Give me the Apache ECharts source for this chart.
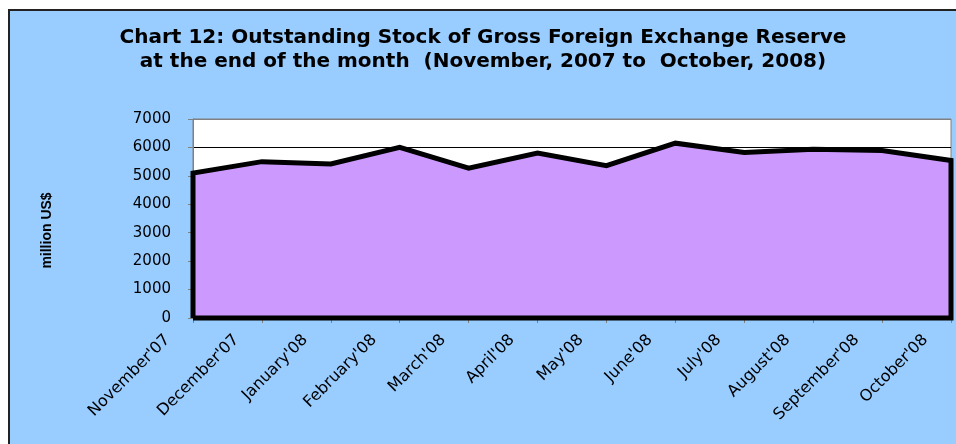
<!DOCTYPE html>
<html>
<head>
<meta charset="utf-8">
<script src="https://cdn.jsdelivr.net/npm/echarts@6/dist/echarts.min.js"></script>
<style>
  html, body { margin: 0; padding: 0; background: #fff; overflow: hidden; width: 956px; height: 444px; }
  #frame {
    position: absolute; left: 8px; top: 9px; width: 1000px; height: 500px;
    border-left: 2px solid #222; border-top: 2px solid #222;
    background: #99CCFF;
  }
  #chart { width: 946px; height: 433px; }
</style>
</head>
<body>
<div id="frame"><div id="chart"></div></div>
<script>
var months = [
  "November'07", "December'07", "January'08", "February'08", "March'08", "April'08",
  "May'08", "June'08", "July'08", "August'08", "September'08", "October'08"
];
var reserve = [5100, 5500, 5420, 6000, 5270, 5800, 5360, 6150, 5820, 5940, 5890, 5540];
var yTicks = [0, 1000, 2000, 3000, 4000, 5000, 6000, 7000];

// closed outline so the black border runs down both ends and along the bottom, like the Excel area
var outline = [[0, 0]];
reserve.forEach(function (v, i) { outline.push([i, v]); });
outline.push([reserve.length - 1, 0]);
outline.push([0, 0]);

var splitColors = yTicks.map(function (t, i) { return i === yTicks.length - 1 ? '#808080' : '#000'; });

var myChart = echarts.init(document.getElementById('chart'));
myChart.setOption({
  animation: false,
  title: {
    text: 'Chart 12: Outstanding Stock of Gross Foreign Exchange Reserve\nat the end of the month  (November, 2007 to  October, 2008)',
    left: 'center',
    top: 10,
    textStyle: {
      fontFamily: 'DejaVu Sans',
      fontSize: 20,
      fontWeight: 'bold',
      color: '#000',
      lineHeight: 24
    }
  },
  grid: {
    left: 183,
    top: 108,
    right: 5,
    bottom: 126,
    outerBoundsMode: 'none',
    show: true,
    backgroundColor: '#fff',
    borderColor: '#808080',
    borderWidth: 1
  },
  xAxis: {
    type: 'category',
    data: months,
    boundaryGap: false,
    axisLine: { lineStyle: { color: '#808080' } },
    axisTick: { show: true, length: 5, lineStyle: { color: '#808080' } },
    axisLabel: {
      rotate: 45,
      margin: -6,
      fontFamily: 'DejaVu Sans',
      fontSize: 16,
      color: '#000',
      interval: 0,
      align: 'right',
      // Excel sets the rotated labels back from the tick
      padding: [0, 36, 0, 0]
    }
  },
  yAxis: {
    type: 'value',
    min: 0,
    max: 7000,
    interval: 1000,
    name: 'million US$',
    nameLocation: 'middle',
    nameRotate: 90,
    nameGap: 139,
    nameTextStyle: {
      fontFamily: 'Liberation Sans',
      fontSize: 14,
      fontWeight: 'bold',
      color: '#000',
      padding: [0, 24, 0, 0]
    },
    axisLine: { show: true, lineStyle: { color: '#808080' } },
    axisTick: { show: true, length: 5, lineStyle: { color: '#808080' } },
    axisLabel: {
      margin: 22,
      fontFamily: 'DejaVu Sans',
      fontSize: 15,
      color: '#000',
      formatter: function (v) { return String(v); }
    },
    splitLine: { show: true, lineStyle: { color: splitColors, width: 1 } }
  },
  series: [{
    type: 'line',
    data: outline,
    clip: false,
    showSymbol: false,
    lineStyle: { color: '#000', width: 5, join: 'miter' },
    areaStyle: { color: '#CC99FF', opacity: 1 }
  }]
});
</script>
</body>
</html>
